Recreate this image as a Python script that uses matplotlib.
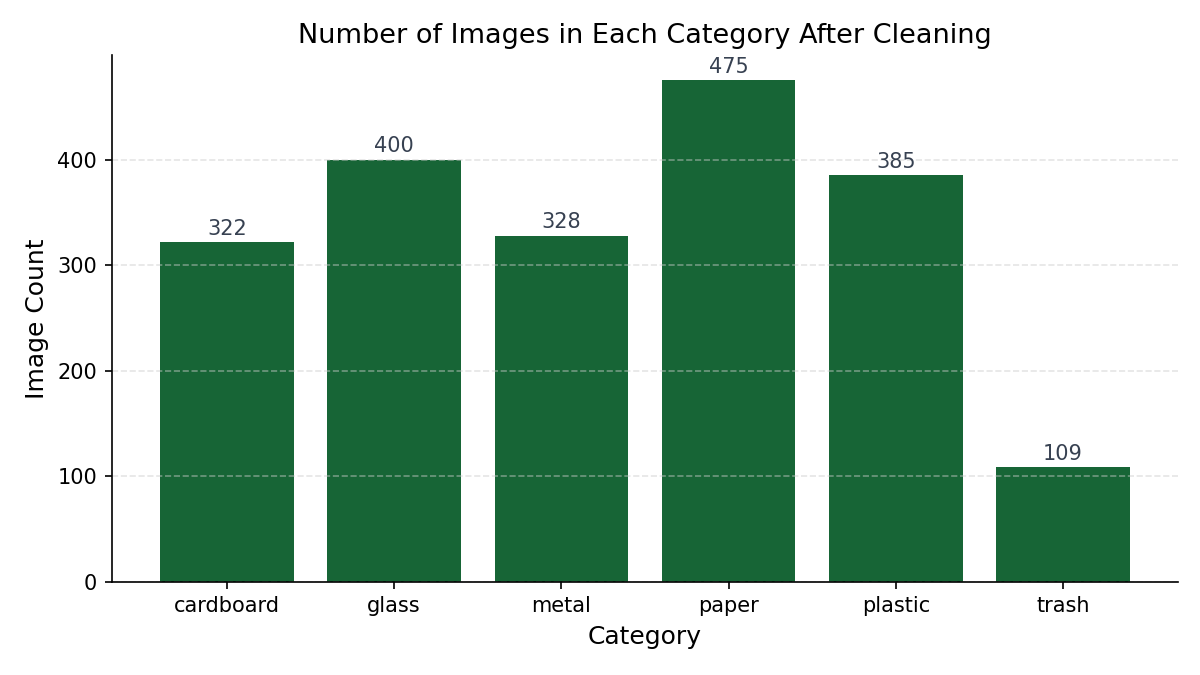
import matplotlib
matplotlib.use('Agg')
import matplotlib.pyplot as plt

categories = ['cardboard', 'glass', 'metal', 'paper', 'plastic', 'trash']
counts = [322, 400, 328, 475, 385, 109]

fig, ax = plt.subplots(figsize=(8, 4.5), dpi=150)
bars = ax.bar(categories, counts, color='#176536', width=0.8, zorder=1)

for b, c in zip(bars, counts):
    ax.text(b.get_x() + b.get_width() / 2, c + 3, str(c),
            ha='center', va='bottom', fontsize=10, color='#374151')

ax.set_title('Number of Images in Each Category After Cleaning', fontsize=13)
ax.set_xlabel('Category', fontsize=12)
ax.set_ylabel('Image Count', fontsize=12)
ax.tick_params(labelsize=10)
ax.set_axisbelow('line')
ax.grid(axis='y', linestyle='--', color='#cccccc', alpha=0.5)
ax.spines['top'].set_visible(False)
ax.spines['right'].set_visible(False)

plt.subplots_adjust(left=0.093, right=0.982, top=0.918, bottom=0.138)
plt.savefig('out.png')
